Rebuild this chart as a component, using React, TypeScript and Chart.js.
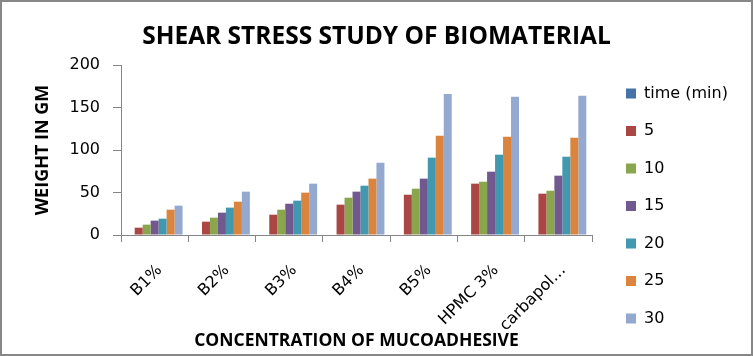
import React, { useEffect, useRef } from "react";
import { Chart, registerables } from "chart.js";

Chart.register(...registerables);

const categories = ["B1%", "B2%", "B3%", "B4%", "B5%", "HPMC 3%", "carbapol…"];
const seriesNames = ["time (min)", "5", "10", "15", "20", "25", "30"];
const timeMin: (number | null)[] = [null, null, null, null, null, null, null];
const t5 = [8.6, 15.7, 23.9, 35.7, 47.4, 60.4, 48.6];
const t10 = [12.2, 20.4, 29.8, 43.9, 54.5, 62.7, 52.1];
const t15 = [16.9, 26.3, 36.8, 51.0, 66.3, 74.5, 69.8];
const t20 = [19.2, 32.2, 40.4, 58.0, 91.0, 94.5, 92.1];
const t25 = [29.8, 39.2, 49.8, 66.3, 116.9, 115.7, 114.5];
const t30 = [34.5, 51.0, 60.4, 85.0, 166.0, 162.7, 163.9];
const yTicks = [0, 50, 100, 150, 200];

const seriesValues = [timeMin, t5, t10, t15, t20, t25, t30];
const colors = ["#4572A7", "#AA4643", "#89A54E", "#71588F", "#4198AF", "#DB843D", "#93A9CF"];

const AXIS = "#868686";
const REG = "DejaVu Sans";
const BOLD = "Open Sans";

export default function App() {
  const ref = useRef<HTMLCanvasElement>(null);

  useEffect(() => {
    const canvas = ref.current!;
    const legendTweak = {
      id: "legendTweak",
      afterInit(chart: any) {
        const lg = chart.legend;
        if (lg && !lg.__patched) {
          const orig = lg.fit;
          lg.fit = function () {
            orig.call(this);
            this.width = 161;
          };
          lg.__patched = true;
        }
      },
      afterLayout(chart: any) {
        const lg = chart.legend;
        if (!lg) return;
        lg.left += 12.5;
        lg.right += 12.5;
        lg.top += 28;
        lg.bottom += 28;
      },
    };

    const chart = new Chart(canvas, {
      type: "bar",
      data: {
        labels: categories,
        datasets: seriesNames.map((name, i) => ({
          label: name,
          data: seriesValues[i] as any,
          backgroundColor: colors[i],
          borderWidth: 0,
          categoryPercentage: 0.83,
          barPercentage: 1,
        })),
      },
      options: {
        responsive: false,
        devicePixelRatio: 1,
        animation: false,
        layout: { padding: 0 },
        plugins: {
          title: {
            display: true,
            text: "SHEAR STRESS STUDY OF BIOMATERIAL",
            color: "#000",
            font: { family: BOLD, weight: "bold", size: 24.5 },
            padding: { top: 22.6, bottom: 13 },
          },
          legend: {
            position: "right",
            align: "center",
            labels: {
              boxWidth: 10,
              boxHeight: 10,
              padding: 21.5,
              color: "#000",
              font: { family: REG, size: 16 },
            },
          },
          tooltip: { enabled: false },
        },
        scales: {
          x: {
            grid: {
              display: true,
              drawOnChartArea: false,
              drawTicks: true,
              tickLength: 7,
              color: AXIS,
              offset: true,
            },
            border: { display: true, color: AXIS },
            ticks: {
              color: "#000",
              font: { family: REG, size: 16 },
              maxRotation: 45,
              minRotation: 45,
              padding: 19,
              labelOffset: 5,
              autoSkip: false,
            },
            title: {
              display: true,
              text: "CONCENTRATION OF MUCOADHESIVE",
              color: "#000",
              font: { family: BOLD, weight: "bold", size: 17.5 },
              padding: { top: 0, bottom: 4 },
            },
            afterFit: (s: any) => {
              s.height = 121;
            },
          },
          y: {
            min: 0,
            max: 200,
            grid: {
              display: true,
              drawOnChartArea: false,
              drawTicks: true,
              tickLength: 8,
              color: AXIS,
            },
            border: { display: true, color: AXIS },
            ticks: {
              color: "#000",
              font: { family: REG, size: 16 },
              padding: 13,
            },
            afterBuildTicks: (s: any) => {
              s.ticks = yTicks.map((v) => ({ value: v }));
            },
            title: {
              display: true,
              text: "WEIGHT IN GM",
              color: "#000",
              font: { family: BOLD, weight: "bold", size: 18 },
              padding: { top: 32.5, bottom: 0 },
            },
            afterFit: (s: any) => {
              s.width = 121;
            },
          },
        },
      },
      plugins: [legendTweak],
    });
    return () => chart.destroy();
  }, []);

  return (
    <div style={{ position: "absolute", left: 0, top: 0, width: 753, height: 356, background: "#fff" }}>
      <canvas ref={ref} width={753} height={356} style={{ display: "block", width: 753, height: 356 }} />
      <div
        style={{
          position: "absolute",
          left: 0,
          top: 0,
          width: 753,
          height: 356,
          border: "2px solid #878787",
          boxSizing: "border-box",
          pointerEvents: "none",
        }}
      />
    </div>
  );
}
